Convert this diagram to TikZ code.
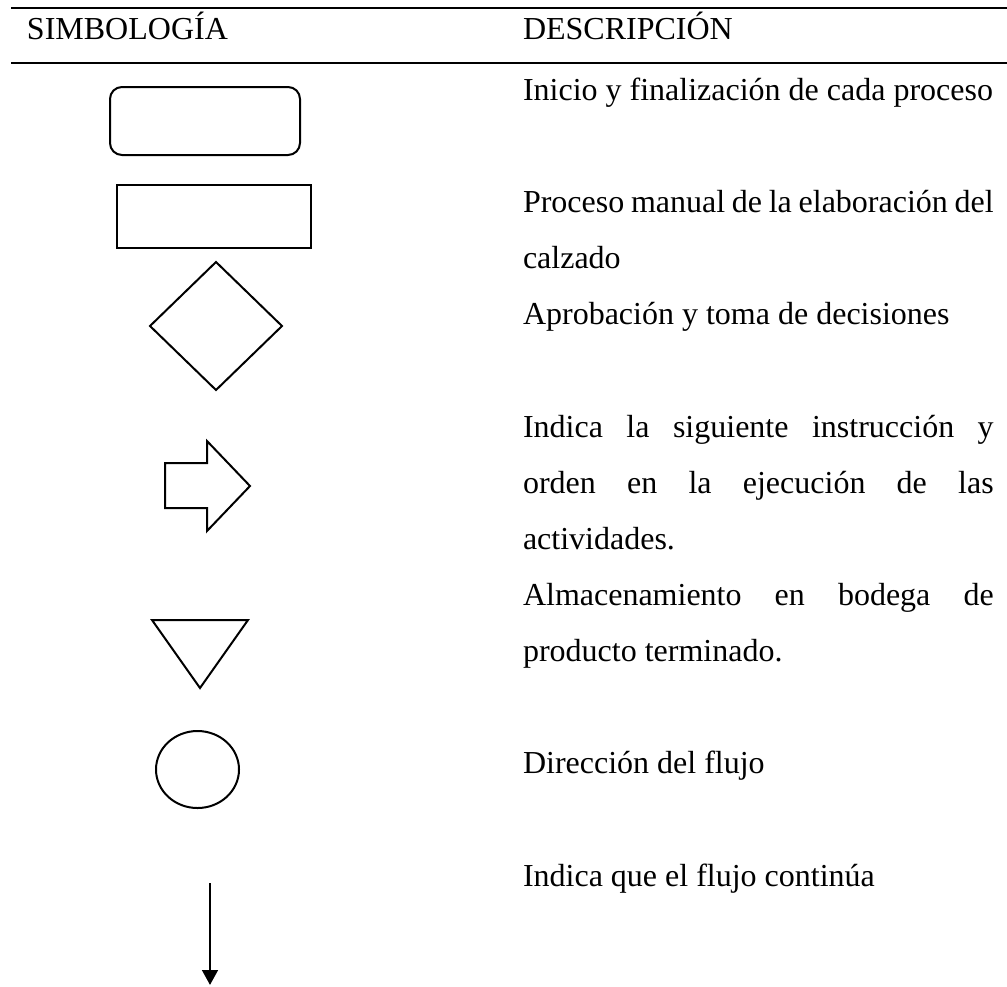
\documentclass[tikz,border=0pt]{standalone}
\usepackage{fontspec}
\setmainfont{Liberation Serif}
\usepackage{tikz}
\usetikzlibrary{arrows.meta}

\newlength{\descw}
\setlength{\descw}{176.5pt}

\begin{document}
\fontsize{12pt}{14pt}\selectfont
\begin{tikzpicture}[x=0.375pt,y=-0.375pt,
  rule/.style={line width=1pt},
  sym/.style={line width=0.75pt},
  desc/.style={anchor=base west,inner sep=0pt,outer sep=0pt}]
\useasboundingbox (0,0) rectangle (1007,986);

\draw [rule] (11,8) -- (1007,8);
\draw [rule] (11,63) -- (1007,63);
\node [desc] (simb) at (27,39) {SIMBOLOGÍA};
\node [desc] (descr) at (523,39) {DESCRIPCIÓN};

\draw [sym, rounded corners=4.5pt] (110,87) rectangle (300,155);
\draw [sym] (117,185) rectangle (311,248);
\draw [sym] (150,326) -- (216,262) -- (282,326) -- (216,390) -- cycle;
\draw [sym] (165,463) -- (207,463) -- (207,441) -- (250,486) -- (207,531) -- (207,508) -- (165,508) -- cycle;
\draw [sym] (152,620) -- (248,620) -- (200,688) -- cycle;
\draw [sym] (197.5,769.5) ellipse [x radius=41.5, y radius=38.5];
\coordinate (flujoA) at (210,883);
\coordinate (flujoB) at (210,985);
\draw [line width=1.1pt,-{Triangle[length=5.6pt,width=5.8pt]}] (flujoA) -- (flujoB);

\node [desc] (inicio) at (523,100) {Inicio y finalización de cada proceso};
\node [desc] (proc1) at (523,212) {\makebox[\descw][s]{Proceso manual de la elaboración del}};
\node [desc] (proc2) at (523,268) {calzado};
\node [desc] (aprob) at (523,324.5) {Aprobación y toma de decisiones};
\node [desc] (ind1) at (523,437) {\makebox[\descw][s]{Indica la siguiente instrucción y}};
\node [desc] (ind2) at (523,493) {\makebox[\descw][s]{orden en la ejecución de las}};
\node [desc] (ind3) at (523,549) {actividades.};
\node [desc] (alm1) at (523,605) {\makebox[\descw][s]{Almacenamiento en bodega de}};
\node [desc] (alm2) at (523,661) {producto terminado.};
\node [desc] (dir) at (523,773.5) {Dirección del flujo};
\node [desc] (cont) at (523,886) {Indica que el flujo continúa};

\end{tikzpicture}
\end{document}
